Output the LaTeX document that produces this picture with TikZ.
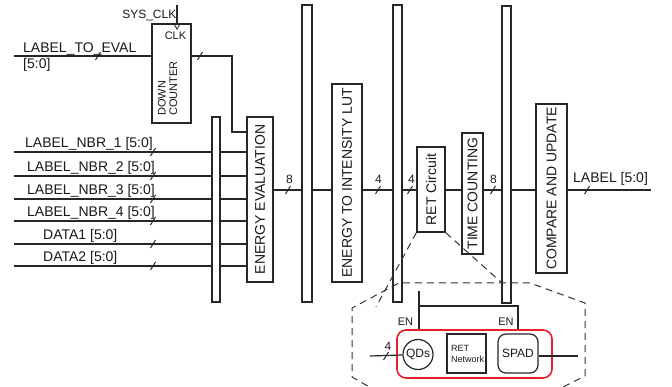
\documentclass[tikz,border=0pt]{standalone}
\usepackage{fontspec}
\setmainfont{Liberation Sans}
\begin{document}
\begin{tikzpicture}[x=1pt,y=-1pt,
  every node/.style={font=\fontsize{14}{16}\selectfont, inner sep=0pt, text=black!90},
  blk/.style={draw=black!85, line width=1.2pt, fill=white, rectangle},
  busbar/.style={draw=black!85, line width=1.2pt, fill=white, rectangle},
  wire/.style={draw=black!85, line width=1.2pt},
  zoomline/.style={draw=black!80, line width=1pt, dash pattern=on 7pt off 5pt},
  bustick/.pic={\draw[black!85, line width=1pt] (-2.5,4) -- (2.5,-4);},
  sm/.style={font=\fontsize{11}{11.5}\selectfont},
  md/.style={font=\fontsize{12}{13}\selectfont},
  lbl/.style={anchor=base west},
  encl/.style={draw={rgb,255:red,228;green,32;blue,45}, line width=1.6pt, rounded corners=9pt, rectangle}
]
\useasboundingbox (0,0) rectangle (672,387);
\clip (0,0) rectangle (672,387);

% ---- bus bars
\node[busbar, minimum width=8pt, minimum height=185pt] (bar1) at (216,209.5) {};
\node[busbar, minimum width=10pt, minimum height=297pt] (bar2) at (307,153.5) {};
\node[busbar, minimum width=9pt, minimum height=297pt] (bar3) at (397.5,153.5) {};
\node[busbar, minimum width=9pt, minimum height=297pt] (bar4) at (506.5,154.5) {};

% ---- blocks
\node[blk, minimum width=39pt, minimum height=99pt] (cnt) at (171.5,73.5) {};
\node[blk, minimum width=26pt, minimum height=165pt] (eval) at (260,199.5) {};
\node[blk, minimum width=30pt, minimum height=198pt] (lut) at (347,183) {};
\node[blk, minimum width=28pt, minimum height=85pt] (ret) at (431,189.5) {};
\node[blk, minimum width=21pt, minimum height=121pt] (time) at (472.5,193.5) {};
\node[blk, minimum width=31pt, minimum height=169pt] (cmp) at (551.5,188.5) {};

\node[rotate=90] (evalt) at (eval) {ENERGY EVALUATION};
\node[rotate=90] (lutt) at (lut) {ENERGY TO INTENSITY LUT};
\node[rotate=90] (rett) at (ret) {RET Circuit};
\node[rotate=90] (timet) at (time) {TIME COUNTING};
\node[rotate=90] (cmpt) at (cmp) {COMPARE AND UPDATE};
\node[rotate=90, anchor=west, align=left, sm] (cntt) at (167.5,116) {DOWN\\COUNTER};

% ---- clock
\coordinate (clktop) at (177,5);
\draw[wire] (clktop) -- (clktop |- cnt.north);
\draw[wire, line width=0.8pt] (174,24) -- (177,29) -- (180,24);
\node[md, anchor=east] (sysclk) at (176.5,16) {SYS\_CLK};
\node[sm] (clk) at (175.5,35.5) {CLK};

% ---- LABEL_TO_EVAL
\coordinate (lte) at (14,56);
\draw[wire] (lte) -- (lte -| cnt.west);
\pic at (98,56) {bustick};
\node[lbl] (ltet) at (23,52.5) {LABEL\_TO\_EVAL};
\node[lbl] (ltew) at (23,68.5) {[5:0]};

% ---- counter output to evaluation
\coordinate (cbend) at (232,132);
\draw[wire] (cnt.east |- lte) -| (cbend) -- (cbend -| eval.west);
\pic at (200,56) {bustick};

% ---- neighbour / data inputs
\foreach \y/\t/\x [count=\i] in {152/LABEL\_NBR\_1 [5:0]/25, 176/LABEL\_NBR\_2 [5:0]/27,
   199/LABEL\_NBR\_3 [5:0]/27, 221/LABEL\_NBR\_4 [5:0]/27,
   244/DATA1 [5:0]/43, 266/DATA2 [5:0]/43}{
  \coordinate (in\i) at (14,\y);
  \draw[wire] (in\i) -- (in\i -| bar1.west);
  \draw[wire] (in\i -| bar1.east) -- (in\i -| eval.west);
  \pic at (153,\y) {bustick};
  \node[lbl] (int\i) at (\x,\y-4.5) {\t};
}

% ---- main data path
\coordinate (mainy) at (0,190);
\coordinate (outend) at (651,190);
\draw[wire] (eval.east |- mainy) -- (bar2.west |- mainy);
\draw[wire] (bar2.east |- mainy) -- (lut.west |- mainy);
\draw[wire] (lut.east |- mainy) -- (bar3.west |- mainy);
\draw[wire] (bar3.east |- mainy) -- (ret.west |- mainy);
\draw[wire] (ret.east |- mainy) -- (time.west |- mainy);
\draw[wire] (time.east |- mainy) -- (bar4.west |- mainy);
\draw[wire] (bar4.east |- mainy) -- (cmp.west |- mainy);
\draw[wire] (cmp.east |- mainy) -- (outend);

\pic at (288,190) {bustick};
\node[lbl, md] (w8a) at (286,184) {8};
\pic at (378,190) {bustick};
\node[lbl, md] (w4a) at (375,183.5) {4};
\pic at (410,190) {bustick};
\node[lbl, md] (w4b) at (408,183.5) {4};
\pic at (493,190) {bustick};
\node[lbl, md] (w8b) at (490,183.5) {8};
\pic at (587,190) {bustick};
\node[lbl] (outl) at (573,183) {LABEL [5:0]};

% ---- expanded RET circuit
\node[encl, minimum width=155pt, minimum height=48pt] (enc) at (474.5,354) {};
\node[draw=black!85, line width=1.2pt, circle, minimum size=30pt, md] (qds) at (418,354.5) {QDs};
\node[blk, minimum width=39pt, minimum height=39pt] (retn) at (466.5,353.5) {};
\node[anchor=west, align=left, font=\fontsize{9}{11}\selectfont] (retnt) at (451,353.5) {RET\\Network};
\node[blk, rounded corners=8pt, minimum width=40pt, minimum height=39pt, md] (spad) at (518,353.5) {SPAD};

\coordinate (qin) at (370,356);
\draw[wire] (qin) -- (qds);
\pic at (386,356) {bustick};
\node[lbl, md] (w4c) at (384.5,350) {4};
\coordinate (sout) at (578,356);
\draw[wire] (spad.east |- sout) -- (sout);

\coordinate (entop) at (419,291);
\coordinate (enmid) at (419,306);
\coordinate (enright) at (518,306);
\draw[wire] (entop) -- (entop |- enc.north);
\draw[wire] (enmid) -- (enright) -- (enright |- enc.north);
\node[sm] (en1) at (405.5,322) {EN};
\node[sm] (en2) at (506,322) {EN};

% ---- zoom outline
\draw[zoomline] (ret.south west) -- (376,307);
\draw[zoomline] (ret.south east) -- (502,283);
\draw[zoomline] (378,392) -- (352,377) -- (352,308) -- (399,283) -- (530,283)
   -- (585,303) -- (585,376) -- (553,392);
\end{tikzpicture}
\end{document}
